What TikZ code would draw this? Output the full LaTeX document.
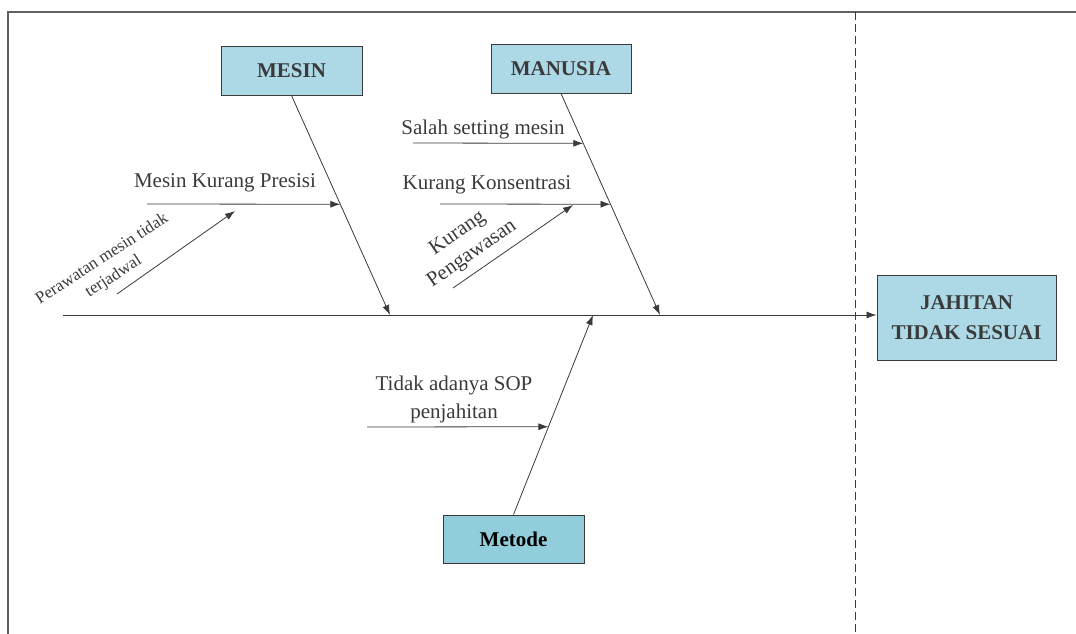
\documentclass[tikz,border=0pt]{standalone}
\usepackage{fontspec}
\setmainfont{Liberation Serif}
\usepackage{tikz}
\usetikzlibrary{arrows.meta,calc}
\definecolor{boxblue}{HTML}{ADD8E6}
\definecolor{metblue}{HTML}{92CDDC}
\definecolor{ink}{HTML}{3A3A3A}
\tikzstyle{headbox}=[rectangle,draw=ink,fill=boxblue,line width=1pt,
                     inner sep=0pt,minimum width=141pt,minimum height=48pt,
                     font=\fontsize{21}{30}\selectfont\bfseries,text=ink]
\tikzstyle{causetext}=[inner sep=0pt,align=center,text=ink,
                       font=\fontsize{21}{28}\selectfont]
\tikzstyle{bone}=[draw=ink,line width=0.8pt,
                  -{Latex[length=10pt,width=7pt]}]
\tikzstyle{rib}=[draw=ink,line width=0.8pt]

\begin{document}
\begin{tikzpicture}[x=1pt,y=-1pt]
    \useasboundingbox (0,0) rectangle (1076,634);
    % frame and boundary
    \draw[ink!80,line width=1.2pt] (8,634) -- (8,12) -- (1076,12);
    \draw[ink,line width=0.8pt,dash pattern=on 8pt off 4pt] (855,12) -- (855,634);
    % heads
    \node (mesin) at (291.5,71) [headbox]{MESIN};
    \node (manusia) at (561,69) [headbox,minimum width=140pt]{MANUSIA};
    \node (metode) at (513.5,539) [headbox,fill=metblue,text=black]{Metode};
    \node (jahitan) at (966.5,317.5) [headbox,minimum width=179pt,
        minimum height=85pt,align=center]{JAHITAN\\TIDAK SESUAI};
    % spine
    \coordinate (tail) at (63,315);
    \coordinate (m1) at (390,315);
    \coordinate (m2) at (660,315);
    \coordinate (m3) at (593,315);
    \draw[bone] (tail) -- (tail -| jahitan.west);
    \draw[bone] (mesin.south) -- (m1);
    \draw[bone] (manusia.south) -- (m2);
    \draw[bone] (metode.north) -- (m3);
    % causes: mesin
    \coordinate (presisiA) at (147,204);
    \coordinate (presisiB) at ($(mesin.south)!0.4955!(m1)$);
    \node (presisi) at (225,183) [causetext]{Mesin Kurang Presisi};
    \draw[bone] (presisiA) -- (presisiB);
    \coordinate (rawatA) at (117,294);
    \coordinate (rawatB) at (235,211);
    \node (rawat) at (108,268) [causetext,rotate=33,
        font=\fontsize{17}{21}\selectfont]{Perawatan mesin tidak\\terjadwal};
    \draw[bone] (rawatA) -- (rawatB);
    % causes: manusia
    \coordinate (salahA) at (413,143);
    \coordinate (salahB) at ($(manusia.south)!0.225!(m2)$);
    \node (salah) at (483,129) [causetext]{Salah setting mesin};
    \draw[bone] (salahA) -- (salahB);
    \coordinate (fokusA) at (440,204);
    \coordinate (fokusB) at ($(manusia.south)!0.5!(m2)$);
    \node (fokus) at (487,185) [causetext]{Kurang Konsentrasi};
    \draw[bone] (fokusA) -- (fokusB);
    \coordinate (awasA) at (453,288);
    \coordinate (awasB) at (573,205);
    \node (awas) at (465,244) [causetext,rotate=35,
        font=\fontsize{21}{25}\selectfont]{Kurang\\Pengawasan};
    \draw[bone] (awasA) -- (awasB);
    % causes: metode
    \coordinate (sopA) at (367,427);
    \coordinate (sopB) at ($(metode.north)!0.44!(m3)$);
    \node (sop) at (454,399) [causetext]{Tidak adanya SOP\\penjahitan};
    \draw[bone] (sopA) -- (sopB);
\end{tikzpicture}
\end{document}
